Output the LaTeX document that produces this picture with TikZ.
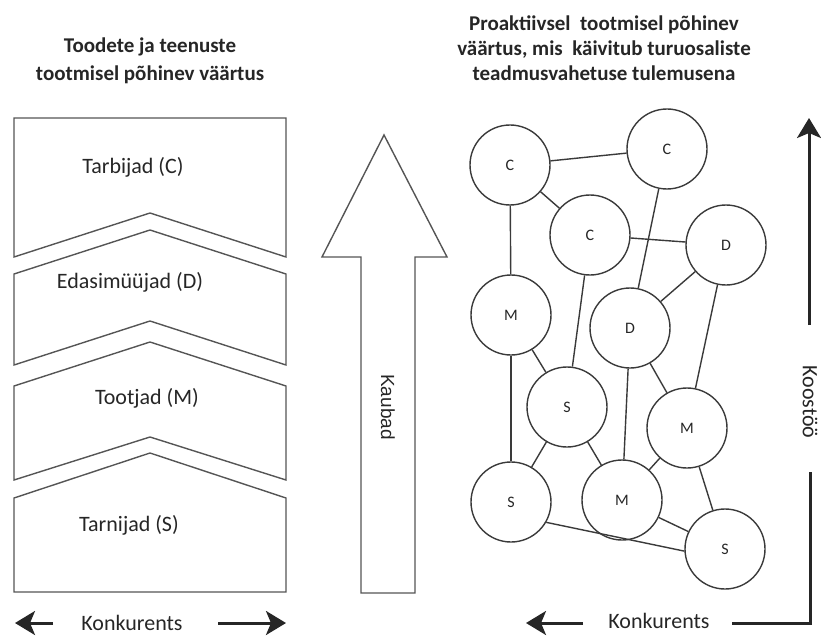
\documentclass[tikz,border=0pt]{standalone}
\usepackage{fontspec}
\setmainfont{Carlito}
\newfontfamily\arialfont{Liberation Sans}
\usetikzlibrary{arrows.meta}
\definecolor{ink}{HTML}{262626}
\definecolor{edge}{HTML}{3A3A3A}
\definecolor{frame}{HTML}{555555}

\tikzset{
  firm/.style={circle, draw=edge, line width=1.4pt, minimum size=80pt, inner sep=0pt,
    font=\fontsize{16}{18}\selectfont},
  lbl/.style={font=\fontsize{22}{26}\selectfont},
  ttl/.style={font=\bfseries\fontsize{21}{28}\selectfont, align=center},
  bigarrow/.style={line width=3pt, -{Stealth[length=20pt,width=24pt,inset=5pt]}}
}

\begin{document}
\begin{tikzpicture}[x=1pt,y=-1pt,color=ink]
\useasboundingbox (0,0) rectangle (821,639);

\node[ttl] (lefttitle) at (150,61) {Toodete ja teenuste\\tootmisel põhinev väärtus};
\node[ttl, font=\bfseries\fontsize{21}{25}\selectfont] (righttitle) at (604,48)
  {Proaktiivsel\ \ tootmisel põhinev\\väärtus, mis\ \ käivitub turuosaliste\\teadmusvahetuse tulemusena};

\begin{scope}[draw=frame, line width=1.4pt, line join=miter]
\draw (14,118) -- (286,118) -- (286,257) -- (150,213) -- (14,257) -- cycle;
\draw (14,274) -- (150,230) -- (286,274) -- (286,365) -- (150,321) -- (14,365) -- cycle;
\draw (14,386) -- (150,342) -- (286,386) -- (286,480) -- (150,437) -- (14,480) -- cycle;
\draw (14,498) -- (150,453) -- (286,498) -- (286,592) -- (14,592) -- cycle;
\end{scope}

\node[lbl] (tarbijad) at (133,167) {Tarbijad (C)};
\node[lbl] (edasi) at (130,282) {Edasimüüjad (D)};
\node[lbl] (tootjad) at (147,398) {Tootjad (M)};
\node[lbl] (tarnijad) at (129,525) {Tarnijad (S)};

\node[lbl] (konkleft) at (132,623) {Konkurents};
\coordinate (kl0) at (53,623);
\coordinate (kl1) at (15,623);
\coordinate (kr0) at (218,623);
\coordinate (kr1) at (286,623);
\draw[bigarrow] (kl0) -- (kl1);
\draw[bigarrow] (kr0) -- (kr1);

\draw[draw=frame, line width=1.4pt] (361,593) -- (361,257) -- (322,257) -- (384,135)
  -- (447,257) -- (415,257) -- (415,593) -- cycle;
\node[rotate=-90, font=\arialfont\fontsize{19}{20}\selectfont] (kaubad) at (388,407) {Kaubad};

\node[firm] (c1) at (510,165) {C};
\node[firm] (c2) at (667,149) {C};
\node[firm] (c3) at (590,235) {C};
\node[firm] (d1) at (726,245) {D};
\node[firm] (m1) at (511,315) {M};
\node[firm] (d2) at (630,328) {D};
\node[firm] (s1) at (567,407) {S};
\node[firm] (m2) at (687,428) {M};
\node[firm] (s2) at (511,502) {S};
\node[firm] (m3) at (622,500) {M};
\node[firm] (s3) at (725,549) {S};

\foreach \a/\b in {c1/c2, c1/c3, c1/m1, c3/d1, c2/d2, d1/d2, c3/s1, d1/m2, m1/s1,
  m1/s2, d2/m3, d2/m2, s1/s2, s1/m3, m2/m3, m2/s3, m3/s3}
  \draw[draw=edge, line width=1.4pt] (\a) -- (\b);
\draw[draw=edge, line width=1.4pt] (s2.-30) -- (s3.183);

\node[lbl] (konkright) at (659,621) {Konkurents};
\coordinate (kk0) at (583,623);
\coordinate (kk1) at (526,623);
\draw[bigarrow] (kk0) -- (kk1);

\coordinate (up0) at (809,325);
\coordinate (up1) at (809,118);
\draw[bigarrow] (up0) -- (up1);
\node[lbl, rotate=-90] (koostoo) at (810,402) {Koostöö};
\coordinate (l0) at (732,623);
\coordinate (l1) at (810,472);
\draw[line width=3pt] (l0) -| (l1);
\end{tikzpicture}
\end{document}
